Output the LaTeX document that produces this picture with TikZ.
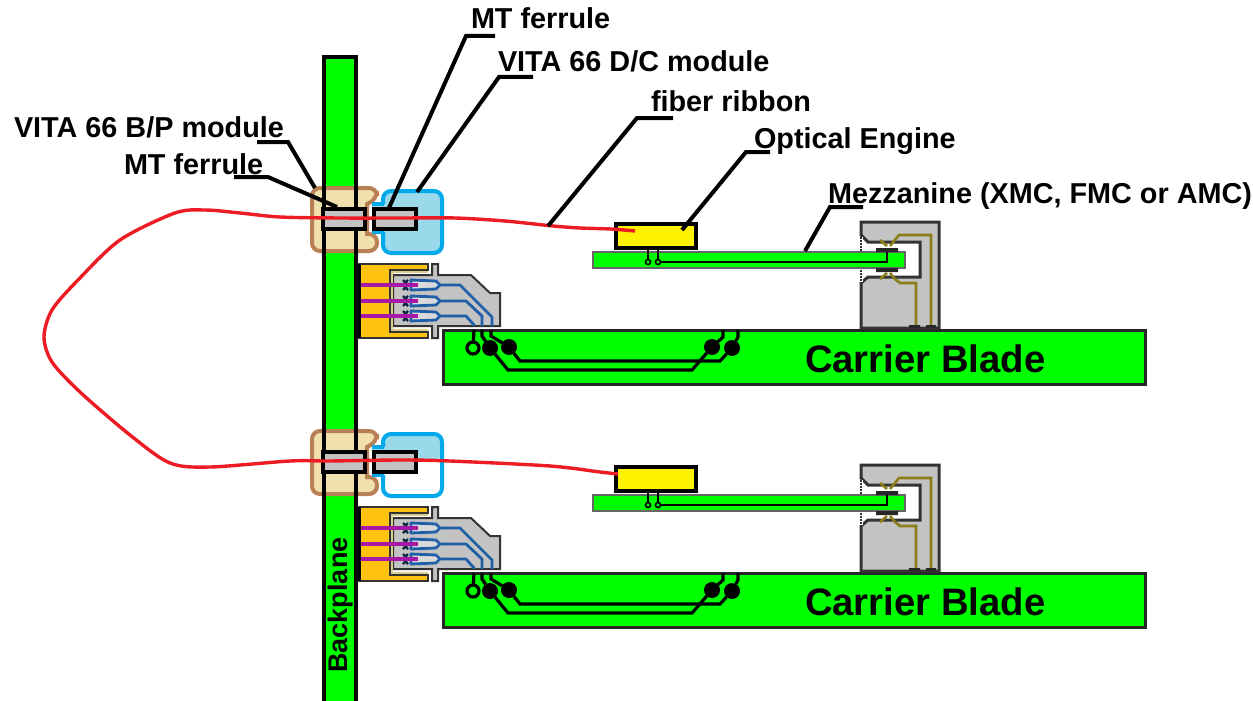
\documentclass[tikz,border=0pt]{standalone}
\usepackage{fontspec}
\setmainfont{Liberation Sans}
\definecolor{boardgreen}{HTML}{00FF00}
\definecolor{tanfill}{HTML}{EFE0AE}
\definecolor{tanedge}{HTML}{B97F55}
\definecolor{modblue}{HTML}{99D9EA}
\definecolor{modedge}{HTML}{00A8EC}
\definecolor{partgray}{HTML}{C3C3C3}
\definecolor{pinorange}{HTML}{FFC20E}
\definecolor{contactblue}{HTML}{1F5FA8}
\definecolor{pinpurple}{HTML}{A818A8}
\definecolor{olivetrace}{HTML}{8B7D17}
\definecolor{fiberred}{HTML}{ED1C24}
\tikzset{
    every node/.style={outer sep=0pt},
    board/.style={draw=black!85, line width=3pt, fill=boardgreen, anchor=north west, inner sep=0pt},
    ferrule/.style={draw=black, line width=4.5pt, fill=partgray, anchor=north west, inner sep=0pt, minimum width=42pt, minimum height=20pt},
    engine/.style={draw=black, line width=4.5pt, fill=yellow, anchor=north west, inner sep=0pt, minimum width=80pt, minimum height=24pt},
    callout/.style={anchor=base west, inner sep=0pt, font=\fontsize{28.8}{30}\selectfont\bfseries},
    bladetext/.style={anchor=base west, inner sep=0pt, font=\fontsize{38.3}{44}\selectfont\bfseries},
    leader/.style={line width=4pt, black},
    fiber/.style={line width=3.4pt, fiberred},
    contact/.style={line width=2.8pt, contactblue},
    pin/.style={line width=3.6pt, pinpurple},
    copper/.style={line width=3.2pt, black},
    olive/.style={line width=2.6pt, olivetrace},
    via/.style={circle, fill=black, inner sep=0pt, minimum size=16pt},
    openvia/.style={circle, draw=black, line width=3.2pt, fill=boardgreen, inner sep=0pt, minimum size=12pt}
}
\begin{document}
\begin{tikzpicture}[x=1pt, y=-1pt]
    \useasboundingbox (0,0) rectangle (1253,701);

    % Backplane fill, modules go on top of it
    \fill[boardgreen] (324,57) rectangle (356,701);

    \foreach \row/\dy/\lowfill in {a/0/modblue, b/243/white} {
    \begin{scope}[shift={(0,\dy)}]
        % B/P module
        \draw[tanedge, line width=4pt, fill=tanfill]
            [rounded corners=8pt] (367,204) -- (377,199) -- (377,188) -- (312,188) -- (312,251) -- (377,251) -- (377,234)
            [sharp corners] -- (367,234) -- cycle;
        % D/C module
        \draw[draw=none, fill=\lowfill, rounded corners=8pt]
            (383,204) -- (383,191) -- (442,191) -- (442,253) -- (383,253) -- (383,232) [sharp corners] -- (372,232) -- (372,204) -- cycle;
        \fill[modblue, rounded corners=8pt] (383,204) -- (383,191) -- (442,191) -- (442,217) [sharp corners] -- (372,217) -- (372,204) -- cycle;
        \draw[modedge, line width=4pt, rounded corners=8pt]
            (383,204) -- (383,191) -- (442,191) -- (442,253) -- (383,253) -- (383,232);
        \draw[modedge, line width=4pt] (384,204) -- (372,204) (384,232) -- (372,232);
    \end{scope}
    }

    % Backplane edges
    \node[draw=black, line width=4.5pt, anchor=north west, inner sep=0pt, minimum width=32pt, minimum height=650pt] (backplane) at (324,57) {};
    \node[rotate=90, inner sep=0pt, font=\fontsize{27}{30}\selectfont\bfseries] (backlabel) at (341,605) {Backplane};

    \foreach \row/\dy in {a/0, b/243} {
    \begin{scope}[shift={(0,\dy)}]
        % Ferrules
        \node[ferrule] (ferruleL\row) at (323,209) {};
        \node[ferrule] (ferruleR\row) at (374,209) {};

        % Backplane connector
        \draw[black!80, line width=2pt, fill=pinorange] (358,264) -- (428,264) -- (428,270) -- (390,270) -- (390,332) -- (428,332) -- (428,338) -- (358,338) -- cycle;
        \fill[black] (357,264) rectangle (361,338);
        \draw[black!80, line width=2pt, fill=partgray] (393,275) -- (432,275) -- (432,264) -- (438,264) -- (438,275) -- (471,275) -- (490,293) -- (500,293) -- (500,326) -- (438,326) -- (438,338) -- (432,338) -- (432,326) -- (393,326) -- cycle;
        \draw[tanfill!80!olive, line width=2pt] (428,272) -- (392,272) -- (392,330) -- (428,330);

        % Contacts
        \foreach \cy in {285,301,316} {
            \draw[contact, fill=white!70!gray] (411,\cy-5) -- (436,\cy-4) -- (440,\cy) -- (436,\cy+4) -- (411,\cy+5) -- cycle;
            \draw[black!60!contactblue, line width=2.4pt] (403,\cy-5) -- (408,\cy) -- (403,\cy+5) (408,\cy-5) -- (403,\cy) -- (408,\cy+5);
            \draw[pin] (361,\cy) -- (418,\cy);
        }
        \draw[contact] (440,285) -- (460,285) -- (492,317) -- (492,326);
        \draw[contact] (440,301) -- (466,301) -- (482,316) -- (482,326);
        \draw[contact] (440,316) -- (466,316) -- (474,325) -- (474,326);

        % Carrier board
        \node[board, minimum width=702pt, minimum height=54pt] (blade\row) at (443,330) {};
        \node[bladetext] (bladetext\row) at (805,372) {Carrier Blade};
        \node[openvia] (viaA\row) at (473,348) {};
        \node[via] (viaB\row) at (490,348) {};
        \node[via] (viaC\row) at (509,347) {};
        \node[via] (viaD\row) at (712,347) {};
        \node[via] (viaE\row) at (732,348) {};
        \draw[copper] (474,330) -- (viaA\row);
        \draw[copper] (482,330) -- (482,336) -- (viaB\row);
        \draw[copper] (491,330) -- (491,336) -- (viaC\row);
        \draw[copper] (viaC\row) -- (520,361) -- (720,361) -- (viaE\row);
        \draw[copper] (viaB\row) -- (508,370) -- (692,370) -- (viaD\row);
        \draw[copper] (723,330) -- (723,337) -- (viaD\row);
        \draw[copper] (738,330) -- (738,337) -- (viaE\row);

        % Mezzanine socket
        \draw[black!80, line width=3pt, fill=partgray] (861,283) -- (861,328) -- (939,328) -- (939,222) -- (861,222) -- (861,235) -- (868,242) -- (920,242) -- (920,277) -- (868,277) -- cycle;
        \draw[white, line width=3pt] (861,237) -- (861,282);
        \draw[black!80, line width=2pt, densely dotted] (861,237) -- (861,282);
        \draw[olive] (880,240) -- (887,246) (890,246) -- (895,240) -- (899,235) -- (931,235) -- (931,326);
        \draw[olive] (880,279) -- (887,273) (890,273) -- (895,279) -- (900,283) -- (916,283) -- (916,326);
        \fill[black!85] (909,325) rectangle (920,328) (926,325) rectangle (936,328);

        % Mezzanine board and engine
        \node[board, draw=black!60, line width=2pt, minimum width=312pt, minimum height=16pt] (mezz\row) at (593,252) {};
        \fill[black!85] (876,248) rectangle (898,252) (876,268) rectangle (898,272);
        \node[engine] (engine\row) at (616,224) {};
        \node[circle, draw=black, line width=1.6pt, inner sep=0pt, minimum size=5pt] (viaF\row) at (648,262) {};
        \node[circle, draw=black, line width=1.6pt, inner sep=0pt, minimum size=5pt] (viaG\row) at (658,262) {};
        \draw[line width=2pt] (viaF\row) -- (648,250) (viaG\row) -- (658,250);
        \draw[line width=2.6pt] (viaG\row) -- (887,262) -- (887,252);
    \end{scope}
    }

    % Fiber ribbon
    \draw[fiber] plot[smooth, tension=0.5] coordinates {(635,231) (611,229) (580,228) (553,226) (505,221) (455,218) (400,218) (340,218) (280,217) (240,213) (205,210) (175,213) (120,240) (78,280) (52,310) (44,337) (52,362) (80,392) (130,435) (170,463) (210,467) (290,461) (330,461) (400,460) (450,461) (550,466) (600,472) (618,474)};

    % Labels
    \node[callout] (mtTop) at (471,29) {MT ferrule};
    \node[callout] (dcLabel) at (498,72) {VITA 66 D/C module};
    \node[callout] (ribbon) at (651,111) {fiber ribbon};
    \node[callout] (oeLabel) at (754,148) {Optical Engine};
    \node[callout] (mezzLabel) at (828,203) {Mezzanine (XMC, FMC or AMC)};
    \node[callout] (bpLabel) at (14,137) {VITA 66 B/P module};
    \node[callout] (mtLeft) at (124,174) {MT ferrule};

    % Leader lines
    \coordinate (tipTop) at (388,210);
    \coordinate (tipDc) at (417,192);
    \coordinate (tipRibbon) at (548,226);
    \coordinate (tipOe) at (682,230);
    \coordinate (tipMezz) at (805,251);
    \coordinate (tipBp) at (315,188);
    \coordinate (tipLeft) at (337,207);
    \draw[leader] (495,36) -- (466,36) -- (tipTop);
    \draw[leader] (533,77) -- (499,77) -- (tipDc);
    \draw[leader] (673,118) -- (637,118) -- (tipRibbon);
    \draw[leader] (770,152) -- (746,152) -- (tipOe);
    \draw[leader] (863,207) -- (830,207) -- (tipMezz);
    \draw[leader] (257,142) -- (288,142) -- (tipBp);
    \draw[leader] (234,177) -- (268,177) -- (tipLeft);
\end{tikzpicture}
\end{document}
